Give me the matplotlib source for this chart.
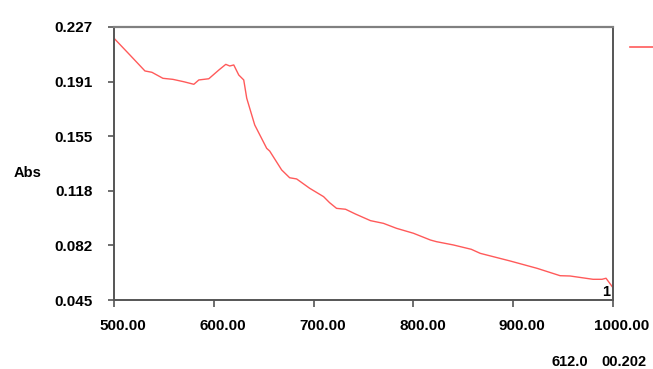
import matplotlib
matplotlib.use("Agg")
import matplotlib.pyplot as plt
import matplotlib.transforms as mtransforms
import numpy as np

plt.rcParams['font.family'] = ['Liberation Sans', 'DejaVu Sans']

wavelength = [500, 516, 531, 538, 549, 559, 570, 580, 585, 595, 605, 612, 616, 620,
              625, 630, 633, 641, 653, 656, 668, 676, 683, 696, 710, 716, 723, 732,
              742, 757, 770, 783, 800, 817, 823, 840, 858, 867, 897, 924, 947, 957,
              980, 989, 993, 1000]
absorbance = [0.2195, 0.2083, 0.1977, 0.1968, 0.1928, 0.1921, 0.1905, 0.1888, 0.1917,
              0.1925, 0.1983, 0.2021, 0.2010, 0.2017, 0.1950, 0.1917, 0.1795, 0.1617,
              0.1461, 0.1443, 0.1317, 0.1265, 0.1257, 0.1195, 0.1139, 0.1099, 0.1061,
              0.1055, 0.1023, 0.0979, 0.0961, 0.0928, 0.0895, 0.0850, 0.0839, 0.0817,
              0.0788, 0.0761, 0.0710, 0.0661, 0.0612, 0.0610, 0.0588, 0.0588, 0.0595,
              0.0532]
x_ticks = [500, 600, 700, 800, 900, 1000]
x_labels = ["500.00", "600.00", "700.00", "800.00", "900.00", "1000.00"]
y_labels = ["0.045", "0.082", "0.118", "0.155", "0.191", "0.227"]
y_min, y_max = 0.045, 0.227

fig = plt.figure(figsize=(6.53, 3.69), dpi=100)
ax = fig.add_axes([114/653, 1-300/369, (613-114)/653, (300-27)/369])
line_color = '#ff5a5a'
ax.plot(wavelength, absorbance, color=line_color, lw=1.0)
ax.set_xlim(500, 1000)
ax.set_ylim(y_min, y_max)

ax.set_xticks(x_ticks)
ax.set_xticklabels(x_labels, fontsize=11, fontweight='bold')
ax.set_yticks(np.linspace(y_min, y_max, len(y_labels)))
ax.set_yticklabels(y_labels, fontsize=11, fontweight='bold')
ax.tick_params(axis='x', direction='out', length=5, width=1.2, color='#555555', pad=8.5)
ax.tick_params(axis='y', direction='out', length=4, width=1.2, color='#555555', pad=11.5)
offset = mtransforms.ScaledTranslation(9/100, 0, fig.dpi_scale_trans)
for lab in ax.get_xticklabels():
    lab.set_transform(lab.get_transform() + offset)

for s in ['left', 'bottom', 'right']:
    ax.spines[s].set_color('#555555')
    ax.spines[s].set_linewidth(1.4)
ax.spines['top'].set_color('#808080')
ax.spines['top'].set_linewidth(1.6)

fig.text(14/653, 1-173/369, "Abs", fontsize=10.5, fontweight='bold', va='center', ha='left')
ax.text(0.995, 0.005, "1", transform=ax.transAxes, fontsize=10.5, fontweight='bold',
        ha='right', va='bottom')
fig.lines.append(plt.Line2D([630/653, 653/653], [1-47/369, 1-47/369],
                            transform=fig.transFigure, color=line_color, lw=1.2))
fig.text(552/653, 1-362/369, "612.0", fontsize=10.5, fontweight='bold', va='center', ha='left')
fig.text(601/653, 1-362/369, "00.202", fontsize=10.5, fontweight='bold', va='center', ha='left')

fig.savefig("out.png", dpi=100)
